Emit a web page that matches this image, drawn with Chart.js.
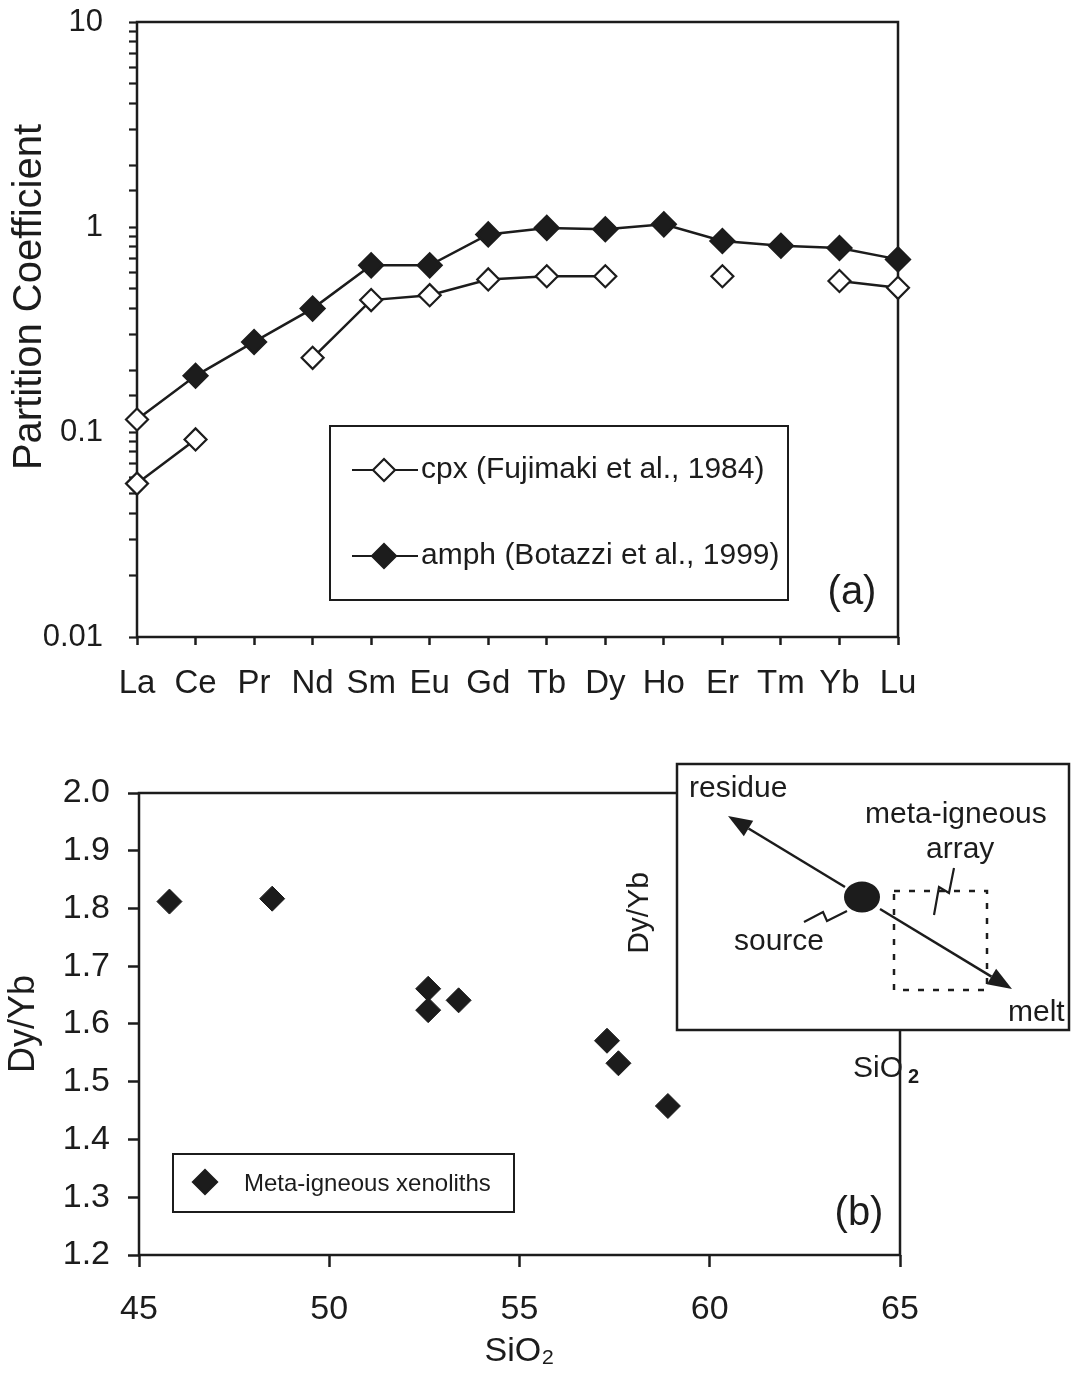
<!DOCTYPE html>
<html>
<head>
<meta charset="utf-8">
<title>REE partition coefficients / Dy/Yb vs SiO2</title>
<script src="https://cdn.jsdelivr.net/npm/chart.js@4.4.1/dist/chart.umd.min.js"></script>
<style>
  html, body { margin: 0; padding: 0; background: #fff; }
  #wrapA { position: absolute; left: 0; top: 0; width: 1071px; height: 720px; }
  #wrapB { position: absolute; left: 0; top: 720px; width: 1071px; height: 654px; }
</style>
</head>
<body>
<div id="wrapA"><canvas id="chartA"></canvas></div>
<div id="wrapB"><canvas id="chartB"></canvas></div>
<script>
// --- (a) partition coefficients for the REE ---
const elements = ["La", "Ce", "Pr", "Nd", "Sm", "Eu", "Gd", "Tb", "Dy", "Ho", "Er", "Tm", "Yb", "Lu"];
const cpxKd  = [0.056, 0.092, null, 0.23, 0.44, 0.465, 0.555, 0.575, 0.575, null, 0.575, null, 0.545, 0.505];
const amphKd = [0.115, 0.188, 0.275, 0.40, 0.65, 0.65, 0.92, 0.99, 0.975, 1.03, 0.855, 0.81, 0.79, 0.695];
const kdTicks = [0.01, 0.1, 1, 10];

// --- (b) meta-igneous xenoliths ---
const xenoSiO2 = [45.8, 48.5, 52.6, 52.6, 53.4, 57.3, 57.6, 58.9];
const xenoDyYb = [1.812, 1.817, 1.661, 1.624, 1.641, 1.571, 1.532, 1.458];
const sio2Ticks = [45, 50, 55, 60, 65];
const dyybTicks = [1.2, 1.3, 1.4, 1.5, 1.6, 1.7, 1.8, 1.9, 2.0];

const INK = "#1c1c1c";
const FONT = "'Liberation Sans', Arial, Helvetica, sans-serif";

function diamond(ctx, x, y, r, fill) {
  ctx.beginPath();
  ctx.moveTo(x - r, y);
  ctx.lineTo(x, y - r);
  ctx.lineTo(x + r, y);
  ctx.lineTo(x, y + r);
  ctx.closePath();
  ctx.fillStyle = fill;
  ctx.fill();
  ctx.lineWidth = 2.2;
  ctx.strokeStyle = INK;
  ctx.stroke();
}

function text(ctx, str, x, y, size, align, baseline) {
  ctx.font = size + "px " + FONT;
  ctx.fillStyle = INK;
  ctx.textAlign = align || "left";
  ctx.textBaseline = baseline || "alphabetic";
  ctx.fillText(str, x, y);
}

function arrow(ctx, x0, y0, x1, y1) {
  const a = Math.atan2(y1 - y0, x1 - x0);
  const L = 24, W = 9;
  const bx = x1 - L * Math.cos(a), by = y1 - L * Math.sin(a);
  ctx.beginPath();
  ctx.moveTo(x0, y0);
  ctx.lineTo(bx, by);
  ctx.stroke();
  ctx.beginPath();
  ctx.moveTo(x1, y1);
  ctx.lineTo(bx + W * Math.sin(a), by - W * Math.cos(a));
  ctx.lineTo(bx - W * Math.sin(a), by + W * Math.cos(a));
  ctx.closePath();
  ctx.fill();
}

function polyline(ctx, pts) {
  ctx.beginPath();
  ctx.moveTo(pts[0][0], pts[0][1]);
  pts.slice(1).forEach(p => ctx.lineTo(p[0], p[1]));
  ctx.stroke();
}

// box round the plot area (all four sides)
const frame = {
  id: "frame",
  beforeDatasetsDraw(chart) {
    const { ctx, chartArea: a } = chart;
    ctx.save();
    ctx.strokeStyle = INK;
    ctx.lineWidth = 2.5;
    ctx.strokeRect(a.left, a.top, a.right - a.left, a.bottom - a.top);
    ctx.restore();
  }
};

const decorA = {
  id: "decorA",
  afterDraw(chart) {
    const ctx = chart.ctx;
    ctx.save();
    // y title, sits above the middle in the original
    ctx.translate(30, 297);
    ctx.rotate(-Math.PI / 2);
    text(ctx, "Partition Coefficient", 0, 0, 40, "center", "middle");
    ctx.restore();

    ctx.save();
    ctx.lineWidth = 2;
    ctx.strokeStyle = INK;
    ctx.strokeRect(330, 426, 458, 174);
    ctx.lineWidth = 2.2;
    [[470, "#fff", "cpx (Fujimaki et al., 1984)"], [556, INK, "amph (Botazzi et al., 1999)"]].forEach(([y, fill, label]) => {
      ctx.beginPath();
      ctx.moveTo(352, y);
      ctx.lineTo(418, y);
      ctx.stroke();
      diamond(ctx, 384, y, fill === "#fff" ? 11 : 12, fill);
      text(ctx, label, 421, y, 30, "left", "middle");
    });
    text(ctx, "(a)", 852, 593, 40, "center", "middle");
    ctx.restore();
  }
};

new Chart(document.getElementById("chartA"), {
  type: "line",
  data: {
    labels: elements,
    datasets: [
      {
        label: "cpx (Fujimaki et al., 1984)",
        data: cpxKd,
        borderColor: INK,
        borderWidth: 2.5,
        pointStyle: "rectRot",
        pointRadius: 11,
        pointBackgroundColor: "#fff",
        pointBorderColor: INK,
        pointBorderWidth: 2.2,
        spanGaps: false,
        clip: false
      },
      {
        label: "amph (Botazzi et al., 1999)",
        data: amphKd,
        borderColor: INK,
        borderWidth: 2.5,
        pointStyle: "rectRot",
        pointRadius: amphKd.map((v, i) => (i === 0 ? 11 : 12)),
        pointBackgroundColor: amphKd.map((v, i) => (i === 0 ? "#fff" : INK)),
        pointBorderColor: INK,
        pointBorderWidth: 2.2,
        clip: false
      }
    ]
  },
  options: {
    responsive: true,
    maintainAspectRatio: false,
    animation: false,
    layout: { padding: { left: 0, top: 22, right: 173, bottom: 0 } },
    plugins: { legend: { display: false }, tooltip: { enabled: false } },
    scales: {
      x: {
        type: "category",
        offset: false,
        border: { display: false },
        grid: { display: true, drawOnChartArea: false, drawTicks: true, tickLength: 8, tickColor: INK, tickWidth: 2.5 },
        ticks: { color: INK, font: { family: FONT, size: 33 }, padding: 19, autoSkip: false, maxRotation: 0 },
        afterFit: s => { s.height = 83; }
      },
      y: {
        type: "logarithmic",
        min: 0.01,
        max: 10,
        border: { display: false },
        grid: { display: true, drawOnChartArea: false, drawTicks: true, tickLength: 8, tickColor: INK, tickWidth: 2.2 },
        ticks: {
          color: INK,
          font: { family: FONT, size: 31 },
          padding: 26,
          autoSkip: false,
          callback: v => {
            const k = kdTicks.find(t => Math.abs(t - v) < t * 1e-6);
            return k === undefined ? "" : String(k);
          }
        },
        afterFit: s => { s.width = 137; s.paddingTop = 0; s.paddingBottom = 0; }
      }
    }
  },
  plugins: [frame, decorA]
});

// inset sketch and legend of (b); y here is canvas y (canvas starts 720px down)
const decorB = {
  id: "decorB",
  afterDraw(chart) {
    const ctx = chart.ctx;
    ctx.save();

    // legend
    ctx.lineWidth = 2;
    ctx.strokeStyle = INK;
    ctx.strokeRect(173, 434, 341, 58);
    diamond(ctx, 205, 462, 12, INK);
    text(ctx, "Meta-igneous xenoliths", 244, 464, 24, "left", "middle");
    text(ctx, "(b)", 859, 494, 40, "center", "middle");

    // inset box covers the corner of the plot frame
    ctx.fillStyle = "#fff";
    ctx.fillRect(677, 44, 392, 266);
    ctx.lineWidth = 2.5;
    ctx.strokeRect(677, 44, 392, 266);

    ctx.lineWidth = 2.5;
    ctx.strokeStyle = INK;
    ctx.fillStyle = INK;
    arrow(ctx, 845, 167, 728, 96);
    arrow(ctx, 880, 189, 1012, 269);
    ctx.beginPath();
    ctx.ellipse(862, 177, 18, 15.5, 0, 0, Math.PI * 2);
    ctx.fill();

    ctx.setLineDash([6, 9]);
    ctx.strokeRect(894, 171, 93, 99);
    ctx.setLineDash([]);
    ctx.lineWidth = 2.2;
    polyline(ctx, [[954, 148], [949, 173], [939, 167], [934, 195]]);
    polyline(ctx, [[804, 202], [823, 192], [827, 201], [847, 191]]);

    text(ctx, "residue", 689, 77, 30);
    text(ctx, "meta-igneous", 865, 103, 30);
    text(ctx, "array", 926, 138, 30);
    text(ctx, "source", 734, 230, 30);
    text(ctx, "melt", 1008, 301, 30);
    text(ctx, "SiO", 853, 357, 30);
    ctx.font = "bold 20px " + FONT;
    ctx.fillText("2", 908, 363);

    ctx.translate(640, 193);
    ctx.rotate(-Math.PI / 2);
    text(ctx, "Dy/Yb", 0, 0, 30, "center", "middle");
    ctx.restore();
  }
};

new Chart(document.getElementById("chartB"), {
  type: "scatter",
  data: {
    datasets: [{
      label: "Meta-igneous xenoliths",
      data: xenoSiO2.map((x, i) => ({ x, y: xenoDyYb[i] })),
      pointStyle: "rectRot",
      pointRadius: 12.5,
      pointBackgroundColor: INK,
      pointBorderColor: INK,
      pointBorderWidth: 1,
      clip: false
    }]
  },
  options: {
    responsive: true,
    maintainAspectRatio: false,
    animation: false,
    layout: { padding: { left: 0, top: 73, right: 171, bottom: 0 } },
    plugins: { legend: { display: false }, tooltip: { enabled: false } },
    scales: {
      x: {
        type: "linear",
        min: 45,
        max: 65,
        afterBuildTicks: s => { s.ticks = sio2Ticks.map(v => ({ value: v })); },
        border: { display: false },
        grid: { display: true, drawOnChartArea: false, drawTicks: true, tickLength: 12, tickColor: INK, tickWidth: 2.5 },
        ticks: { color: INK, font: { family: FONT, size: 34 }, padding: 22, maxRotation: 0, callback: v => String(v) },
        title: { display: true, text: "SiO₂", color: INK, font: { family: FONT, size: 34 }, padding: { top: 0, bottom: 2 } },
        afterFit: s => { s.height = 119; }
      },
      y: {
        type: "linear",
        min: 1.2,
        max: 2.0,
        afterBuildTicks: s => { s.ticks = dyybTicks.map(v => ({ value: v })); },
        border: { display: false },
        grid: { display: true, drawOnChartArea: false, drawTicks: true, tickLength: 11, tickColor: INK, tickWidth: 2.5 },
        ticks: { color: INK, font: { family: FONT, size: 34 }, padding: 18, callback: v => v.toFixed(1) },
        title: { display: true, text: "Dy/Yb", color: INK, font: { family: FONT, size: 36 }, padding: { top: 2, bottom: 0 } },
        afterFit: s => { s.width = 139; }
      }
    }
  },
  plugins: [frame, decorB]
});
</script>
</body>
</html>
